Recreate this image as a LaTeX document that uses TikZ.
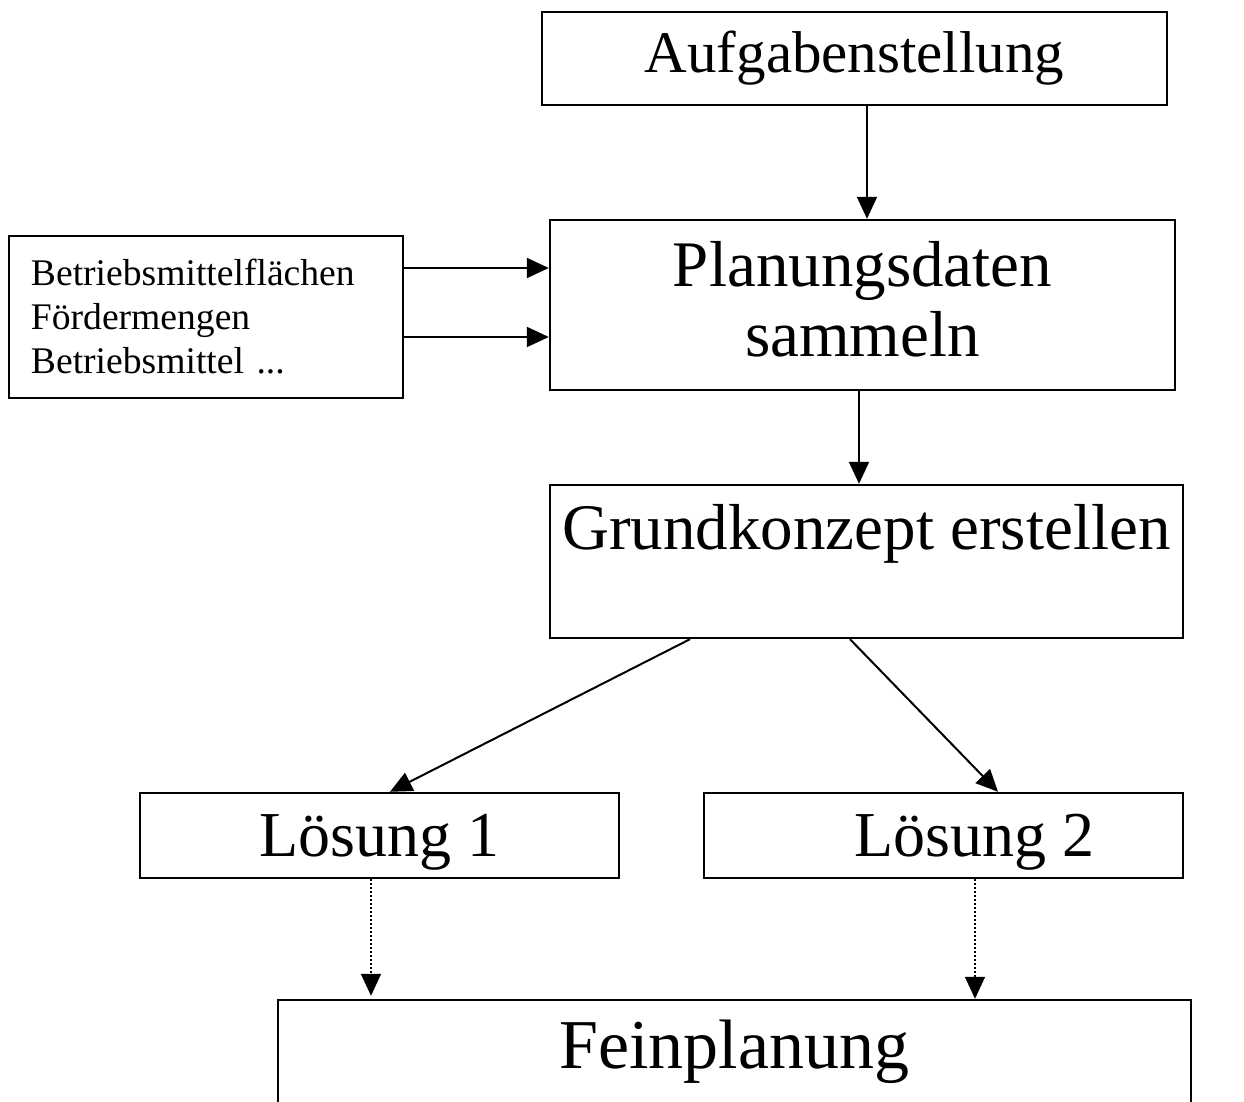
\documentclass[tikz,border=0pt]{standalone}
\usepackage{fontspec}
\setmainfont{Liberation Serif}
\usetikzlibrary{arrows.meta}
\tikzstyle{plan box}=[draw, line width=1.2pt, inner sep=0pt, align=center]
\tikzstyle{plan arrow}=[line width=1pt, -{Triangle[length=11pt,width=10pt]}]
\tikzstyle{plan dotted}=[line width=0.8pt, dash pattern=on 1pt off 1pt, -{Triangle[length=11pt,width=10pt]}]
\begin{document}
\begin{tikzpicture}[x=0.5pt, y=-0.5pt]
  \useasboundingbox (0,0) rectangle (1244,1102);
  \clip (0,0) rectangle (1244,1102);
  \node[plan box, minimum width=312.5pt, minimum height=46.5pt,
    font=\fontsize{29.5}{34}\selectfont] (aufgabe) at (854.5,58.5) {Aufgabenstellung};
  \node[plan box, minimum width=312.5pt, minimum height=85pt, text depth=6pt,
    font=\fontsize{32.5}{35}\selectfont] (daten) at (862.5,305) {Planungsdaten\\sammeln};
  \node[plan box, align=left, inner xsep=11pt, text width=175pt, minimum height=81pt,
    font=\fontsize{18.8}{22}\selectfont] (quellen) at (206,317)
    {Betriebsmittelflächen\\Fördermengen\\Betriebsmittel ...};
  \node[plan box, minimum width=316.5pt, minimum height=76.5pt, text depth=0pt,
    font=\fontsize{32.5}{35}\selectfont] (konzept) at (866.5,561.5) {Grundkonzept erstellen\\\strut};
  \node[plan box, minimum width=239.5pt, minimum height=42.5pt, text depth=0pt,
    font=\fontsize{32}{35}\selectfont] (loesung1) at (379.5,835.5) {Lösung 1};
  \node[plan box, minimum width=239.5pt, minimum height=42.5pt, text depth=0pt,
    font=\fontsize{32}{35}\selectfont] (loesung2) at (943.5,835.5) {\hspace*{31pt}Lösung 2};
  \node[plan box, minimum width=456.5pt, minimum height=52pt,
    font=\fontsize{35}{38}\selectfont] (fein) at (734.5,1052) {Feinplanung};

  \draw[plan arrow] (aufgabe.south -| 867,0) -- (daten.north -| 867,0);
  \draw[plan arrow] (quellen.east |- 0,268) -- (daten.west |- 0,268);
  \draw[plan arrow] (quellen.east |- 0,337) -- (daten.west |- 0,337);
  \draw[plan arrow] (daten.south -| 859,0) -- (konzept.north -| 859,0);
  \draw[plan arrow] (konzept.south -| 690,0) -- (loesung1.north -| 390,0);
  \draw[plan arrow] (konzept.south -| 850,0) -- (loesung2.north -| 998,0);
  \draw[plan dotted, shorten >=1.5pt] (loesung1.south -| 371,0) -- (fein.north -| 371,0);
  \draw[plan dotted] (loesung2.south -| 975,0) -- (fein.north -| 975,0);
\end{tikzpicture}
\end{document}
